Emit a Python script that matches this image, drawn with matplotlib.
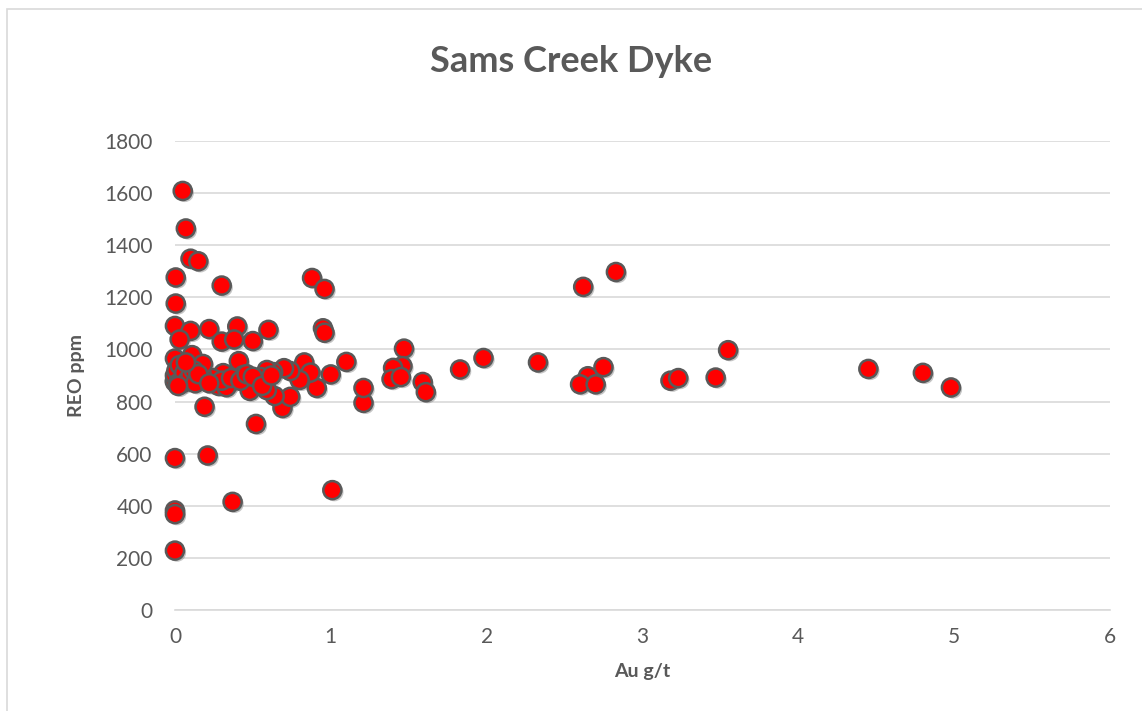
import matplotlib.pyplot as plt
import matplotlib.patheffects as pe
from matplotlib.patches import Rectangle

plt.rcParams['font.family'] = ['Lato', 'DejaVu Sans']

# Au g/t vs REO ppm
au = [0.05, 0.07, 0.10, 0.15, 0.005, 0.30, 0.88, 0.96, 0.005, 0.0,
      0.10, 0.22, 0.40, 0.60, 0.95, 0.96, 0.03, 0.30, 0.38, 0.50,
      0.0, 0.11, 0.41, 0.83, 1.10, 0.0, 0.21, 0.37, 1.01, 0.0,
      0.0, 0.0, 0.69, 0.74, 0.52, 0.19, 1.21, 1.21, 1.0, 0.91,
      0.87, 0.80, 0.74, 0.70, 0.64, 0.63, 0.59, 0.59, 0.55, 0.53,
      0.48, 0.44, 0.35, 0.31, 0.27, 0.24, 0.17, 0.18, 0.11, 0.0,
      0.03, 0.05, 1.47, 1.98, 1.83, 1.46, 1.40, 1.39, 1.45, 1.59,
      1.61, 2.33, 2.62, 2.83, 2.75, 2.65, 2.60, 2.70, 3.18, 3.23,
      3.47, 3.55, 4.45, 4.80, 4.98,
      0.0, 0.0, 0.01, 0.02, 0.03, 0.05, 0.06, 0.08, 0.10, 0.12,
      0.13, 0.15, 0.02, 0.07, 0.28, 0.33, 0.30, 0.22, 0.36, 0.42,
      0.46, 0.50, 0.56, 0.62]
reo = [1608, 1464, 1348, 1338, 1276, 1245, 1274, 1232, 1176, 1090,
       1071, 1078, 1088, 1075, 1081, 1064, 1038, 1030, 1038, 1032,
       965, 978, 955, 950, 952, 583, 593, 415, 460, 382,
       368, 228, 775, 818, 714, 780, 795, 852, 904, 852,
       911, 883, 917, 928, 821, 913, 921, 844, 894, 871,
       841, 902, 871, 909, 871, 890, 909, 944, 894, 875,
       909, 871, 1003, 967, 923, 936, 929, 886, 894, 875,
       836, 950, 1240, 1297, 932, 897, 866, 866, 880, 890,
       892, 997, 925, 910, 854,
       880, 900, 920, 870, 940, 890, 910, 880, 900, 920,
       870, 905, 860, 950, 860, 855, 880, 870, 890, 880,
       905, 895, 860, 900]

x_ticks = [0, 1, 2, 3, 4, 5, 6]
y_ticks = [0, 200, 400, 600, 800, 1000, 1200, 1400, 1600, 1800]

txt = '#595959'
grid = '#d9d9d9'

fig = plt.figure(figsize=(11.42, 7.11), dpi=100)
ax = fig.add_axes([0.1532, 0.142, 0.8187, 0.6598])

pts = ax.scatter(au, reo, s=170, c='#ff0000', edgecolors='#595959',
                 linewidths=1.8, zorder=3, clip_on=False)
pts.set_path_effects([pe.SimplePatchShadow(offset=(1.5, -1.5), shadow_rgbFace='#7f7f7f', alpha=0.45),
                      pe.Normal()])

ax.set_xlim(0, 6)
ax.set_ylim(0, 1800)
ax.set_xticks(x_ticks)
ax.set_yticks(y_ticks)
ax.grid(axis='y', color=grid, linewidth=1.2, zorder=0)
ax.set_axisbelow(True)
for side in ['top', 'right', 'left']:
    ax.spines[side].set_visible(False)
ax.spines['bottom'].set_color(grid)
ax.spines['bottom'].set_linewidth(1.2)
ax.tick_params(length=0, labelsize=15, labelcolor=txt)
ax.tick_params(axis='y', pad=16)
ax.tick_params(axis='x', pad=12)

ax.set_xlabel('Au g/t', fontsize=14, fontweight='bold', color=txt, labelpad=12)
ax.set_ylabel('REO ppm', fontsize=14, fontweight='bold', color=txt, labelpad=14)
fig.text(0.5, 0.913, 'Sams Creek Dyke', ha='center', va='center',
         fontsize=26, fontweight='bold', color=txt)

# chart border (only top/left visible in the crop)
fig.patches.append(Rectangle((7 / 1142, -0.05), 1.1, 1 - 9 / 711 + 0.05,
                             transform=fig.transFigure, fill=False,
                             edgecolor=grid, linewidth=1.2))

fig.savefig('out.png', dpi=100)
